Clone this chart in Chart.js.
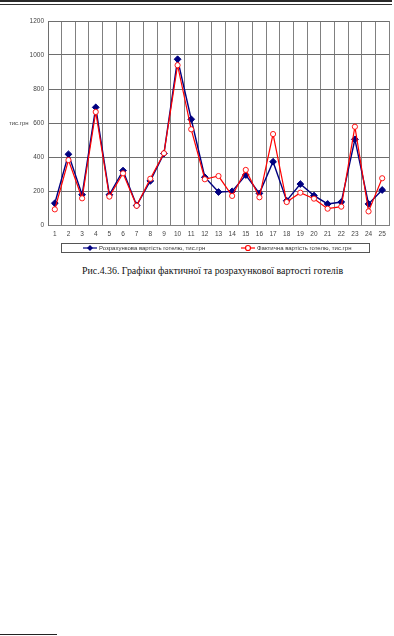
<!DOCTYPE html>
<html>
<head>
<meta charset="utf-8">
<script src="https://cdn.jsdelivr.net/npm/chart.js@4/dist/chart.umd.min.js"></script>
<style>
  html, body { margin: 0; padding: 0; background: #fff; }
  body { width: 394px; height: 636px; position: relative; overflow: hidden; }
  #rule-thick { position: absolute; left: 0; top: 0; width: 392px; height: 2px; background: #2a2a2a; }
  #rule-thin { position: absolute; left: 0; top: 4px; width: 392px; height: 1px; background: #333; }
  #wrap { position: absolute; left: 0; top: 0; width: 394px; height: 262px; }
  #caption {
    position: absolute; left: 82px; top: 265px; white-space: nowrap;
    font-family: "Liberation Serif", "DejaVu Serif", serif; font-size: 9.9px; color: #111;
  }
  #footnote { position: absolute; left: 0; top: 634px; width: 57px; height: 1px; background: #222; }
</style>
</head>
<body>
<div id="rule-thick"></div>
<div id="rule-thin"></div>
<div id="wrap"><canvas id="hotels"></canvas></div>
<div id="caption">Рис.4.36. Графіки фактичної та розрахункової вартості готелів</div>
<div id="footnote"></div>
<script>
const hotelLabels = ["1", "2", "3", "4", "5", "6", "7", "8", "9", "10", "11", "12", "13",
  "14", "15", "16", "17", "18", "19", "20", "21", "22", "23", "24", "25"];
const estimatedCost = [128, 416, 178, 692, 178, 320, 115, 259, 420, 975, 622, 281, 194,
  198, 294, 186, 372, 143, 241, 173, 124, 135, 504, 124, 206];
const actualCost = [92, 382, 157, 665, 167, 304, 113, 272, 422, 940, 563, 269, 288,
  171, 324, 163, 535, 135, 190, 155, 96, 108, 578, 80, 275];
const yTicks = [0, 200, 400, 600, 800, 1000, 1200];
const yUnit = "тис.грн";
const seriesNames = ["Розрахункова вартість готелю, тис.грн", "Фактична вартість готелю, тис.грн"];

const NAVY = "#000080";
const RED = "#ff0000";
const tickFont = { family: "'Liberation Sans', Arial, sans-serif", size: 6.5 };

// Excel-like legend in a bordered box plus the y unit label
const excelDecor = {
  id: "excelDecor",
  afterDraw(chart) {
    const ctx = chart.ctx;
    ctx.save();
    // unit label next to the 600 tick
    const y600 = chart.scales.y.getPixelForValue(600);
    ctx.font = "6px 'Liberation Sans', Arial, sans-serif";
    ctx.fillStyle = "#444";
    ctx.textBaseline = "middle";
    ctx.textAlign = "left";
    ctx.fillText(yUnit, 9, y600);

    // legend box
    ctx.strokeStyle = "#555";
    ctx.lineWidth = 1;
    ctx.strokeRect(61.5, 243.5, 308, 9);
    const ly = 248;
    const items = [
      { x: 83, color: NAVY, kind: "diamond", text: seriesNames[0] },
      { x: 241, color: RED, kind: "circle", text: seriesNames[1] },
    ];
    items.forEach((it) => {
      ctx.strokeStyle = it.color;
      ctx.lineWidth = 1.2;
      ctx.beginPath();
      ctx.moveTo(it.x, ly);
      ctx.lineTo(it.x + 14, ly);
      ctx.stroke();
      const cx = it.x + 7;
      if (it.kind === "diamond") {
        ctx.fillStyle = it.color;
        ctx.beginPath();
        ctx.moveTo(cx, ly - 3);
        ctx.lineTo(cx + 3, ly);
        ctx.lineTo(cx, ly + 3);
        ctx.lineTo(cx - 3, ly);
        ctx.closePath();
        ctx.fill();
      } else {
        ctx.fillStyle = "#fff";
        ctx.beginPath();
        ctx.arc(cx, ly, 2.5, 0, Math.PI * 2);
        ctx.fill();
        ctx.stroke();
      }
      ctx.fillStyle = "#333";
      ctx.font = "6px 'Liberation Sans', Arial, sans-serif";
      ctx.fillText(it.text, it.x + 16, ly);
    });
    ctx.restore();
  },
};

new Chart(document.getElementById("hotels"), {
  type: "line",
  data: {
    labels: hotelLabels,
    datasets: [
      {
        label: seriesNames[0],
        data: estimatedCost,
        borderColor: NAVY,
        backgroundColor: NAVY,
        borderWidth: 1.4,
        pointStyle: "rectRot",
        pointRadius: 3.4,
        pointBackgroundColor: NAVY,
        pointBorderColor: NAVY,
        pointBorderWidth: 1,
        tension: 0,
        order: 1,
      },
      {
        label: seriesNames[1],
        data: actualCost,
        borderColor: RED,
        backgroundColor: RED,
        borderWidth: 1.2,
        pointStyle: "circle",
        pointRadius: 2.6,
        pointBackgroundColor: "#fff",
        pointBorderColor: RED,
        pointBorderWidth: 0.9,
        tension: 0,
        order: 0,
      },
    ],
  },
  options: {
    responsive: true,
    maintainAspectRatio: false,
    animation: false,
    events: [],
    layout: { padding: { top: 21, right: 2, left: 0, bottom: 0 } },
    plugins: { legend: { display: false }, tooltip: { enabled: false } },
    scales: {
      x: {
        offset: true,
        grid: { color: "#808080", lineWidth: 1, offset: true, drawTicks: false },
        border: { color: "#808080" },
        ticks: { font: tickFont, color: "#444", padding: 5, maxRotation: 0, autoSkip: false },
        afterFit(scale) { scale.height = 37; },
      },
      y: {
        min: 0,
        max: 1200,
        afterBuildTicks(scale) { scale.ticks = yTicks.map((v) => ({ value: v })); },
        grid: { color: "#6e6e6e", lineWidth: 1, drawTicks: false },
        border: { color: "#6e6e6e" },
        ticks: { font: tickFont, color: "#444", padding: 4, callback: (v) => String(v) },
        afterFit(scale) { scale.width = 48; },
      },
    },
  },
  plugins: [excelDecor],
});
</script>
</body>
</html>
